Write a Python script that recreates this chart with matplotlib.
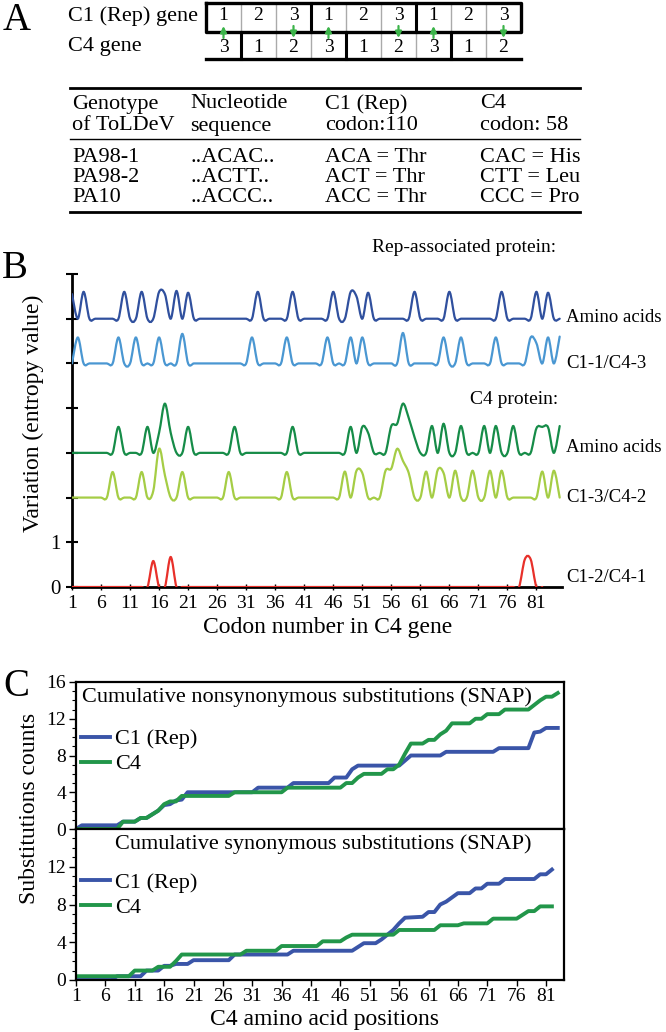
import numpy as np
import matplotlib.pyplot as plt
from matplotlib.path import Path
from matplotlib.patches import PathPatch
from matplotlib.ticker import MultipleLocator

plt.rcParams['font.family'] = ['Liberation Serif', 'DejaVu Serif']

# ---------------- panel A ----------------
c1_frame = ['1', '2', '3', '1', '2', '3', '1', '2', '3']
c4_frame = ['3', '1', '2', '3', '1', '2', '3', '1', '2']
table_header = [['Genotype', 'Nucleotide', 'C1 (Rep)', 'C4'],
                ['of ToLDeV', 'sequence', 'codon:110', 'codon: 58']]
genotypes = ['PA98-1', 'PA98-2', 'PA10']
sequences = ['..ACAC..', '..ACTT..', '..ACCC..']
rep_codons = ['ACA = Thr', 'ACT = Thr', 'ACC = Thr']
c4_codons = ['CAC = His', 'CTT = Leu', 'CCC = Pro']

# ---------------- panel B: entropy per codon (codons with non-zero value) ----------------
n_codons = 85
rep_aa_pos = [1, 3, 10, 13, 16, 17, 19, 21, 33, 39, 46, 49, 50, 52, 60, 66, 75, 81, 83]
rep_aa_val = [0.55, 0.6, 0.6, 0.6, 0.6, 0.55, 0.62, 0.58, 0.6, 0.6, 0.6, 0.6, 0.5, 0.58,
              0.6, 0.6, 0.6, 0.6, 0.58]
c1_1_pos = [2, 9, 12, 16, 20, 32, 38, 45, 49, 51, 58, 65, 68, 74, 80, 81, 83, 85]
c1_1_val = [0.58, 0.58, 0.58, 0.58, 0.66, 0.58, 0.58, 0.58, 0.58, 0.58, 0.68, 0.58,
            0.58, 0.58, 0.58, 0.45, 0.58, 0.6]
c4_aa_pos = [9, 14, 16, 17, 18, 21, 29, 39, 49, 51, 52, 56, 57, 58, 59, 60, 63, 65, 68,
             72, 74, 77, 81, 82, 83, 85]
c4_aa_val = [0.58, 0.58, 0.45, 1.1, 0.45, 0.58, 0.58, 0.58, 0.58, 0.58, 0.45, 0.6, 0.65,
             1.1, 0.78, 0.35, 0.6, 0.65, 0.6, 0.6, 0.6, 0.6, 0.55, 0.58, 0.57, 0.6]
c1_3_pos = [8, 13, 15, 16, 17, 20, 28, 38, 48, 50, 51, 55, 56, 57, 58, 59, 62, 64, 65,
            67, 70, 73, 75, 82, 84]
c1_3_val = [0.57, 0.57, 0.15, 1.09, 0.5, 0.57, 0.57, 0.57, 0.58, 0.6, 0.55, 0.6, 0.65,
            1.09, 0.82, 0.55, 0.58, 0.62, 0.55, 0.6, 0.6, 0.6, 0.6, 0.58, 0.6]
c1_2_pos = [15, 18, 79, 80]
c1_2_val = [0.58, 0.67, 0.62, 0.62]

# ---------------- panel C: cumulative substitutions (codon, count) ----------------
nonsyn_rep_x = [1, 2, 8, 9, 11, 12, 13, 14, 15, 16, 17, 18, 19, 20, 31, 32, 37, 38, 44,
                45, 47, 48, 49, 56, 58, 63, 64, 72, 73, 78, 79, 80, 81, 83]
nonsyn_rep_y = [0, 0.4, 0.4, 0.8, 0.8, 1.2, 1.2, 1.6, 2.0, 2.6, 2.7, 3.1, 3.2, 4.0, 4.0,
                4.5, 4.5, 5.0, 5.0, 5.6, 5.6, 6.5, 6.9, 6.9, 8.0, 8.0, 8.4, 8.4, 8.8, 8.8,
                10.5, 10.6, 11.0, 11.0]
nonsyn_c4_x = [1, 8, 9, 11, 12, 13, 14, 15, 16, 17, 18, 19, 27, 28, 36, 37, 46, 47, 48,
               49, 50, 53, 54, 55, 56, 57, 58, 60, 61, 62, 63, 64, 65, 68, 69, 70, 71, 73,
               74, 78, 79, 80, 81, 82, 83]
nonsyn_c4_y = [0, 0, 0.8, 0.8, 1.2, 1.2, 1.6, 2.0, 2.7, 3.0, 3.0, 3.6, 3.6, 4.0, 4.0, 4.5,
               4.5, 5.0, 5.0, 5.6, 6.0, 6.0, 6.5, 6.5, 7.0, 8.2, 9.3, 9.3, 9.7, 9.7, 10.3,
               10.7, 11.5, 11.5, 12.0, 12.0, 12.5, 12.5, 13.0, 13.0, 13.5, 14.0, 14.4,
               14.4, 14.8]
syn_rep_x = [1, 7, 8, 12, 13, 15, 16, 17, 18, 20, 21, 27, 28, 37, 38, 48, 50, 52, 53, 54,
             55, 56, 57, 60, 61, 62, 63, 64, 66, 68, 69, 70, 71, 73, 74, 79, 80, 81, 82]
syn_rep_y = [0, 0, 0.4, 0.4, 1.0, 1.0, 1.5, 1.5, 1.7, 1.7, 2.1, 2.1, 2.7, 2.7, 3.1, 3.1,
             3.9, 3.9, 4.3, 4.8, 5.3, 6.0, 6.6, 6.7, 7.2, 7.2, 8.0, 8.3, 9.2, 9.2, 9.7,
             9.7, 10.2, 10.2, 10.7, 10.7, 11.2, 11.2, 11.7]
syn_c4_x = [1, 10, 11, 14, 15, 17, 18, 19, 29, 30, 35, 36, 42, 43, 46, 47, 48, 55, 56,
            62, 63, 66, 67, 71, 72, 76, 77, 78, 79, 80, 82]
syn_c4_y = [0.4, 0.4, 1.0, 1.0, 1.4, 1.4, 2.0, 2.7, 2.7, 3.1, 3.1, 3.6, 3.6, 4.1, 4.1,
            4.5, 4.8, 4.8, 5.3, 5.3, 5.8, 5.8, 6.0, 6.0, 6.5, 6.5, 6.9, 7.3, 7.3, 7.8, 7.8]

W, H = 666, 1032
fig = plt.figure(figsize=(W / 100, H / 100), dpi=100)


def px_axes(x0, y0, x1, y1):
    return fig.add_axes([x0 / W, 1 - y1 / H, (x1 - x0) / W, (y1 - y0) / H])


def smooth_path(x, y):
    # Catmull-Rom style smoothing drawn as cubic Bezier segments (like a spreadsheet "smoothed line")
    xp = np.r_[x[0], x, x[-1]]
    yp = np.r_[y[0], y, y[-1]]
    verts = [(x[0], y[0])]
    codes = [Path.MOVETO]
    for i in range(1, len(xp) - 2):
        c1 = (xp[i] + (xp[i + 1] - xp[i - 1]) / 6, yp[i] + (yp[i + 1] - yp[i - 1]) / 6)
        c2 = (xp[i + 1] - (xp[i + 2] - xp[i]) / 6, yp[i + 1] - (yp[i + 2] - yp[i]) / 6)
        verts += [c1, c2, (xp[i + 1], yp[i + 1])]
        codes += [Path.CURVE4] * 3
    return Path(verts, codes)


def entropy_track(pos, val, n=n_codons):
    y = np.zeros(n)
    y[np.array(pos) - 1] = val
    return np.arange(1, n + 1, dtype=float), y


# ---------------- panel B ----------------
ax_b = px_axes(72, 274, 562, 587)
ax_b.set_xlim(1, 85.4)
ax_b.set_ylim(0, 7)
for s in ['top', 'right']:
    ax_b.spines[s].set_visible(False)
ax_b.spines['left'].set_linewidth(2)
ax_b.spines['bottom'].set_linewidth(2)

tracks = [
    (rep_aa_pos, rep_aa_val, 6, '#30509e', n_codons),
    (c1_1_pos, c1_1_val, 5, '#4a97d2', n_codons),
    (c4_aa_pos, c4_aa_val, 3, '#168c48', n_codons),
    (c1_3_pos, c1_3_val, 2, '#a5cd45', n_codons),
    (c1_2_pos, c1_2_val, 0, '#e8302a', 82),
]
for pos, val, base, col, n in tracks:
    x, y = entropy_track(pos, val, n)
    ax_b.add_patch(PathPatch(smooth_path(x, y + base), fill=False, edgecolor=col,
                             lw=1.6, zorder=3, capstyle='round'))

ax_b.set_xticks(range(1, 82, 5))
ax_b.set_yticks(range(8))
ax_b.set_yticklabels(['0', '1', '', '', '', '', '', ''])
ax_b.tick_params(axis='y', direction='inout', length=8, width=1.5, labelsize=15, pad=4)
ax_b.tick_params(axis='x', direction='inout', length=5, width=1, labelsize=14, pad=3)

# ---------------- panel C ----------------
ax_c1 = px_axes(76, 682, 564, 829)
ax_c2 = px_axes(76, 829, 564, 980)
panels = [
    (ax_c1, nonsyn_rep_x, nonsyn_rep_y, nonsyn_c4_x, nonsyn_c4_y,
     'Cumulative nonsynonymous substitutions (SNAP)', [0, 4, 8, 12, 16], 0.682),
    (ax_c2, syn_rep_x, syn_rep_y, syn_c4_x, syn_c4_y,
     'Cumulative synonymous substitutions (SNAP)', [0, 4, 8, 12], 0.715),
]
for ax, rx, ry, gx, gy, title, yt, leg_y in panels:
    ax.plot(rx, ry, color='#3a55a8', lw=2.8, label='C1 (Rep)')
    ax.plot(gx, gy, color='#22964a', lw=2.8, label='C4')
    ax.set_xlim(1, 84.06)
    ax.set_ylim(0, 16)
    for s in ax.spines.values():
        s.set_linewidth(1.6)
    ax.set_yticks(yt)
    ax.yaxis.set_minor_locator(MultipleLocator(1))
    ax.tick_params(axis='y', which='major', direction='out', length=5, width=1,
                   labelsize=14, pad=2)
    ax.tick_params(axis='y', which='minor', direction='out', length=3, width=0.8)
    ax.text(0.934, 0.9, title, transform=ax.transAxes, ha='right', va='center', fontsize=16)
    ax.legend(loc='upper left', bbox_to_anchor=(0.01, leg_y), frameon=False, fontsize=16,
              handlelength=1.3, handletextpad=0.25, labelspacing=0.2, borderaxespad=0,
              borderpad=0)
ax_c1.set_xticks([])
ax_c2.set_xticks(range(1, 82, 5))
ax_c2.tick_params(axis='x', direction='out', length=4, width=1, labelsize=14, pad=2)

# ---------------- overlay: panel A and free labels ----------------
ov = fig.add_axes([0, 0, 1, 1], facecolor='none')
ov.set_xlim(0, W)
ov.set_ylim(H, 0)
ov.axis('off')

for lab, (lx, ly) in zip(['A', 'B', 'C'], [(17, 20), (15, 268), (16, 686)]):
    ov.text(lx, ly, lab, fontsize=28, ha='center', va='center')

ov.text(68, 16, 'C1 (Rep) gene', fontsize=16, va='center')
ov.text(68, 47, 'C4 gene', fontsize=16, va='center')

cell_w, bx0 = 35, 206
bx1 = bx0 + cell_w * len(c1_frame)
top, mid, bot = 3, 32, 59
for i in range(1, len(c1_frame)):
    xx = bx0 + i * cell_w
    if i % 3 == 0:
        ov.plot([xx, xx], [top, mid], color='black', lw=2.2)
    else:
        ov.plot([xx, xx], [top, mid], color='#aaaaaa', lw=1)
    if i % 3 == 1:
        ov.plot([xx, xx], [mid, bot], color='black', lw=2.2)
    else:
        ov.plot([xx, xx], [mid, bot], color='#aaaaaa', lw=1)
ov.plot([bx0, bx1, bx1, bx0, bx0], [top, top, mid, mid, top], color='black', lw=2.4)
ov.plot([bx0, bx1], [bot, bot], color='black', lw=2.4)
for i, (a, b) in enumerate(zip(c1_frame, c4_frame)):
    cx = bx0 + (i + 0.5) * cell_w
    ov.text(cx, 16, a, fontsize=14, ha='center', va='center')
    ov.text(cx, 47, b, fontsize=14, ha='center', va='center')
    arrow = dict(arrowstyle='-|>', color='#3cb44a', lw=1.6, mutation_scale=9,
                 shrinkA=0, shrinkB=0)
    if a == '1':
        ov.annotate('', xy=(cx, 26), xytext=(cx, 38), arrowprops=arrow)
    elif a == '3':
        ov.annotate('', xy=(cx, 38), xytext=(cx, 26), arrowprops=arrow)

col_x = [72, 190, 325, 480]
tx0, tx1 = 70, 580
ov.plot([tx0, tx1], [88, 88], color='black', lw=2)
ov.plot([tx0, tx1], [139, 139], color='black', lw=1)
ov.plot([tx0, tx1], [212, 212], color='black', lw=2)
for r, row in enumerate(table_header):
    for cx, t in zip(col_x, row):
        ov.text(cx, 104 + r * 22, t, fontsize=16, va='center')
for r, cells in enumerate(zip(genotypes, sequences, rep_codons, c4_codons)):
    for cx, t in zip(col_x, cells):
        ov.text(cx, 157 + r * 20, t, fontsize=16, va='center')

# panel B labels
ov.text(556, 248, 'Rep-associated protein:', fontsize=14, ha='right', va='center')
ov.text(558, 400, 'C4 protein:', fontsize=14, ha='right', va='center')
for lbl, ly in [('Amino acids', 318), ('C1-1/C4-3', 363), ('Amino acids', 447),
                ('C1-3/C4-2', 497), ('C1-2/C4-1', 577)]:
    ov.text(566, ly, lbl, fontsize=13.5, va='center')
ov.text(328, 628, 'Codon number in C4 gene', fontsize=17, ha='center', va='center')
ov.text(33, 413, 'Variation (entropy value)', fontsize=17, rotation=90, ha='center', va='center')

# panel C labels
ov.text(325, 1019, 'C4 amino acid positions', fontsize=17, ha='center', va='center')
ov.text(30, 808, 'Substitutions counts', fontsize=17, rotation=90, ha='center', va='center')

fig.savefig('out.png', dpi=100)
